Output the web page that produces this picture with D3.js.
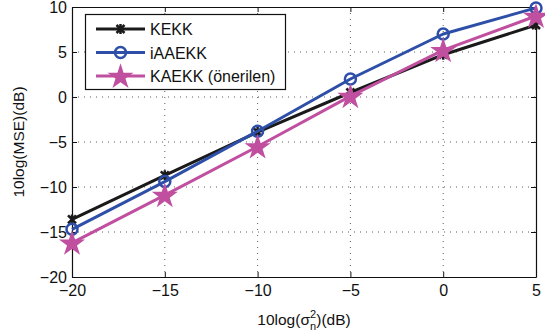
<!DOCTYPE html>
<html><head><meta charset="utf-8">
<script src="https://cdn.jsdelivr.net/npm/d3@7/dist/d3.min.js"></script>
<style>body{margin:0;background:#fff}svg{display:block;font-family:"Liberation Sans",Arial,sans-serif}</style>
</head><body><svg id="c" width="545" height="332"></svg>
<script>
const xValues = [-20, -15, -10, -5, 0, 5];
const kekk = [-13.6, -8.7, -3.9, 0.5, 4.7, 8.0];
const iaaekk = [-14.7, -9.4, -3.8, 2.0, 7.0, 9.9];
const kaekk = [-16.2, -10.9, -5.5, 0.1, 5.2, 9.0];
const xTicks = [-20, -15, -10, -5, 0, 5];
const yTicks = [-20, -15, -10, -5, 0, 5, 10];
const seriesNames = ["KEKK", "iAAEKK", "KAEKK (önerilen)"];
const colors = ["#1a1a1a", "#2e4fa8", "#c04fa0"];

const svg = d3.select("#c");
const L = 72, R = 536, T = 7, B = 277;
const x = d3.scaleLinear().domain([-20, 5]).range([L, R]);
const y = d3.scaleLinear().domain([-20, 10]).range([B, T]);
const fmt = d => d < 0 ? "\u2212" + Math.abs(d) : String(d);

// grid
const g = svg.append("g");
g.selectAll(".gx").data(xTicks.slice(1, -1)).enter().append("line")
  .attr("x1", d => x(d)).attr("x2", d => x(d)).attr("y1", T).attr("y2", B)
  .attr("stroke", "#333").attr("stroke-width", 0.8).attr("stroke-dasharray", "1,5");
g.selectAll(".gy").data(yTicks.slice(1, -1)).enter().append("line")
  .attr("y1", d => y(d)).attr("y2", d => y(d)).attr("x1", L).attr("x2", R)
  .attr("stroke", "#333").attr("stroke-width", 0.8).attr("stroke-dasharray", "1,5");

// axes
const ax = svg.append("g").attr("transform", `translate(0,${B})`)
  .call(d3.axisBottom(x).tickValues(xTicks).tickFormat(fmt).tickSizeInner(-5).tickSizeOuter(0).tickPadding(8));
const ay = svg.append("g").attr("transform", `translate(${L},0)`)
  .call(d3.axisLeft(y).tickValues(yTicks).tickFormat(fmt).tickSizeInner(-5).tickSizeOuter(0).tickPadding(5));
const at = svg.append("g").attr("transform", `translate(0,${T})`)
  .call(d3.axisTop(x).tickValues(xTicks).tickFormat("").tickSizeInner(-5).tickSizeOuter(0));
const ar = svg.append("g").attr("transform", `translate(${R},0)`)
  .call(d3.axisRight(y).tickValues(yTicks).tickFormat("").tickSizeInner(-5).tickSizeOuter(0));
[ax, ay, at, ar].forEach(a => {
  a.select(".domain").attr("stroke", "#111").attr("stroke-width", 1.2);
  a.selectAll(".tick line").attr("stroke", "#111").attr("stroke-width", 1);
  a.selectAll("text").attr("font-size", 16).attr("fill", "#111").attr("font-family", "Liberation Sans, Arial, sans-serif");
});

// lines
const data = [kekk, iaaekk, kaekk];
const line = d3.line().x((d, i) => x(xValues[i])).y(d => y(d));
const star = d3.symbol().type(d3.symbolStar).size(210);
const asterisk = "M-4,-4L4,4M-4,4L4,-4M0,-5L0,5";
function marker(sel, k, cx, cy) {
  if (k === 0) {
    sel.append("path").attr("d", asterisk).attr("transform", `translate(${cx},${cy})`)
      .attr("stroke", colors[0]).attr("stroke-width", 2.5).attr("fill", "none");
  } else if (k === 1) {
    sel.append("circle").attr("cx", cx).attr("cy", cy).attr("r", 5.5)
      .attr("fill", "none").attr("stroke", colors[1]).attr("stroke-width", 2.5);
  } else {
    sel.append("path").attr("d", star).attr("transform", `translate(${cx},${cy + 1})`)
      .attr("fill", colors[2]);
  }
}
data.forEach((s, k) => {
  svg.append("path").attr("d", line(s)).attr("fill", "none")
    .attr("stroke", colors[k]).attr("stroke-width", 3).attr("stroke-linejoin", "round");
  const mg = svg.append("g");
  s.forEach((v, i) => marker(mg, k, x(xValues[i]), y(v)));
});

// legend
const lg = svg.append("g");
lg.append("rect").attr("x", 85.5).attr("y", 14.5).attr("width", 200).attr("height", 75)
  .attr("fill", "#fff").attr("stroke", "#111").attr("stroke-width", 1.2);
seriesNames.forEach((n, k) => {
  const yy = 29 + k * 23.5;
  lg.append("line").attr("x1", 96).attr("x2", 145).attr("y1", yy).attr("y2", yy)
    .attr("stroke", colors[k]).attr("stroke-width", 3);
  marker(lg, k, 120.5, yy);
  lg.append("text").attr("x", 150).attr("y", yy + 6).attr("font-size", 16).attr("fill", "#111").text(n);
});

// axis labels
svg.append("text").attr("transform", `translate(24,${(T + B) / 2}) rotate(-90)`)
  .attr("text-anchor", "middle").attr("font-size", 15.5).attr("fill", "#111").text("10log(MSE)(dB)");
const xl = svg.append("text").attr("x", 304).attr("y", 325).attr("text-anchor", "middle")
  .attr("font-size", 15.5).attr("fill", "#111");
xl.append("tspan").text("10log(\u03c3");
xl.append("tspan").attr("font-size", 11).attr("dy", -7).text("2");
xl.append("tspan").attr("font-size", 11).attr("dx", -6).attr("dy", 12).text("n");
xl.append("tspan").attr("dy", -5).text(")(dB)");
</script></body></html>
